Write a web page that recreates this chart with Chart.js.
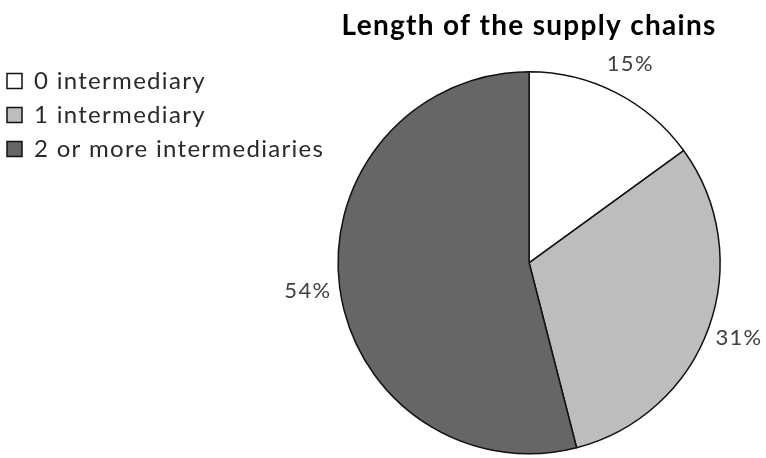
<!DOCTYPE html>
<html>
<head>
<meta charset="utf-8">
<script src="https://cdn.jsdelivr.net/npm/chart.js@4/dist/chart.umd.min.js"></script>
<style>
  html, body { margin: 0; padding: 0; background: #fff; }
  #wrap { width: 766px; height: 458px; }
</style>
</head>
<body>
<div id="wrap"><canvas id="grafico" width="766" height="458"></canvas></div>
<script>
// dati del grafico
const categorie = ['0 intermediary', '1 intermediary', '2 or more intermediaries'];
const percentuali = [15, 31, 54];
const colori = ['#ffffff', '#bdbdbd', '#666666'];

// testo un po' più largo (spaziatura tra le lettere)
const spaziatura = {
    id: 'spaziatura',
    beforeLayout(chart) { chart.ctx.letterSpacing = '1.3px'; },
    beforeDraw(chart) { chart.ctx.letterSpacing = '1.3px'; }
};

// etichette percentuali fuori dalla torta
const etichettePercentuali = {
    id: 'etichettePercentuali',
    afterDatasetsDraw(chart) {
        const ctx = chart.ctx;
        const meta = chart.getDatasetMeta(0);
        ctx.save();
        ctx.font = '22px Lato';
        ctx.fillStyle = '#404040';
        ctx.textAlign = 'center';
        ctx.textBaseline = 'middle';
        meta.data.forEach((arc, i) => {
            const p = arc.getProps(['x', 'y', 'startAngle', 'endAngle', 'outerRadius'], true);
            const mezzo = (p.startAngle + p.endAngle) / 2;
            const r = p.outerRadius + 32;
            ctx.fillText(chart.data.datasets[0].data[i] + '%', p.x + r * Math.cos(mezzo), p.y + r * Math.sin(mezzo));
        });
        ctx.restore();
    }
};

new Chart(document.getElementById('grafico'), {
    type: 'pie',
    data: {
        labels: categorie,
        datasets: [{
            data: percentuali,
            backgroundColor: colori,
            borderColor: '#111111',
            borderWidth: 1.5,
            radius: 191
        }]
    },
    options: {
        responsive: false,
        animation: false,
        layout: { padding: { left: -3, right: 42, top: 0, bottom: 0 } },
        plugins: {
            title: {
                display: true,
                text: 'Length of the supply chains',
                fullSize: false,
                color: '#000000',
                font: { family: 'Lato', size: 28, weight: 'bold' },
                padding: { top: 9, bottom: 25 }
            },
            legend: {
                position: 'left',
                align: 'start',
                fullSize: true,
                onClick: null,
                title: { display: true, text: '', font: { size: 10 }, padding: { top: 47, bottom: 0 } },
                labels: {
                    color: '#2a2a2a',
                    font: { family: 'Lato', size: 24 },
                    boxWidth: 15,
                    boxHeight: 15,
                    padding: 10
                }
            },
            tooltip: { enabled: false }
        }
    },
    plugins: [spaziatura, etichettePercentuali]
});
</script>
</body>
</html>
